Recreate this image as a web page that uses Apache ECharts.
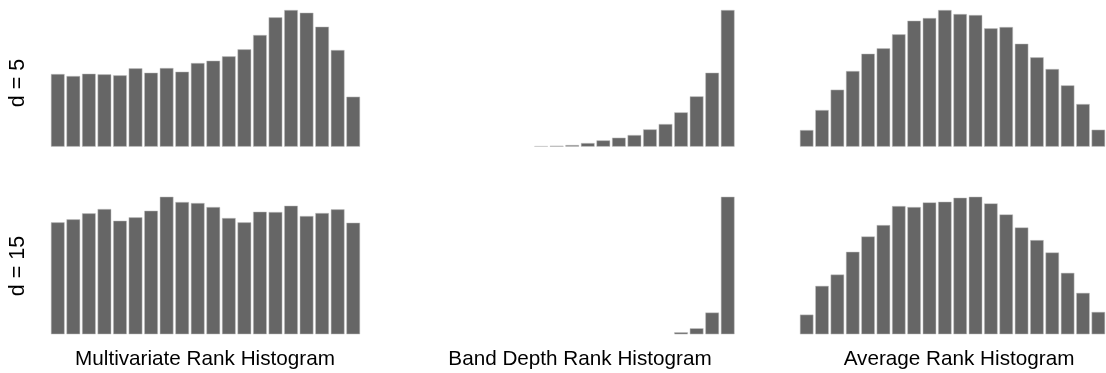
<!DOCTYPE html>
<html>
<head>
<meta charset="utf-8">
<script src="https://cdn.jsdelivr.net/npm/echarts@6/dist/echarts.min.js"></script>
<style>
html,body{margin:0;padding:0;background:#fff;}
#chart{width:1106px;height:373px;}
</style>
</head>
<body>
<div id="chart"></div>
<script>
// Rank bins (1..20)
const ranks = ["1","2","3","4","5","6","7","8","9","10","11","12","13","14","15","16","17","18","19","20"];

// Row labels and column titles
const rowLabels = ["d = 5", "d = 15"];
const colTitles = ["Multivariate Rank Histogram", "Band Depth Rank Histogram", "Average Rank Histogram"];

// d = 5 (relative frequencies)
const mvRankD5  = [218,212,219,217,214,235,222,236,225,251,258,271,292,335,388,410,402,360,290,150];
const bdRankD5  = [0,0,0,0,0,0,0,2,3,5,11,19,27,35,52,68,103,151,222,410];
const avgRankD5 = [50,110,171,227,279,295,337,378,386,410,398,395,355,359,309,268,233,184,128,51];

// d = 15
const mvRankD15  = [336,345,363,376,341,351,371,413,397,394,382,349,336,368,367,386,355,364,375,335];
const bdRankD15  = [0,0,0,0,0,0,0,0,0,0,0,0,0,0,0,0,6,18,65,411];
const avgRankD15 = [59,145,179,247,293,327,384,381,395,397,409,412,392,359,320,282,245,184,124,67];

const panels = [
  [mvRankD5, bdRankD5, avgRankD5],
  [mvRankD15, bdRankD15, avgRankD15]
];

const colLeft = [50, 424.5, 799];
const colWidth = 311;
const rowTop = [10, 196.7];
const rowHeight = [136.7, 137.6];
const titleX = [205, 580, 959];
const titleY = 359;
const rowLabelX = 18;
const rowLabelY = [83, 266];

const grids = [], xAxes = [], yAxes = [], series = [];
let idx = 0;
for (let r = 0; r < 2; r++) {
  for (let c = 0; c < 3; c++) {
    const data = panels[r][c];
    grids.push({left: colLeft[c], top: rowTop[r], width: colWidth, height: rowHeight[r], containLabel: false});
    xAxes.push({type: 'category', gridIndex: idx, data: ranks, show: false, boundaryGap: true});
    yAxes.push({type: 'value', gridIndex: idx, min: 0, max: Math.max(...data), show: false});
    series.push({
      type: 'bar', xAxisIndex: idx, yAxisIndex: idx,
      data: data.map(v => (v === 0 ? '-' : v)),
      barCategoryGap: '12%', silent: true, animation: false,
      itemStyle: {color: '#666666', borderColor: '#c4c4c4', borderWidth: 0.5}
    });
    idx++;
  }
}

const graphics = [];
colTitles.forEach((t, i) => {
  graphics.push({type: 'text', x: titleX[i], y: titleY, style: {
    text: t, fill: '#000', font: '20.7px "Liberation Sans", Arial, sans-serif',
    textAlign: 'center', textVerticalAlign: 'middle'}});
});
rowLabels.forEach((t, i) => {
  graphics.push({type: 'text', x: rowLabelX, y: rowLabelY[i], rotation: Math.PI / 2, style: {
    text: t, fill: '#000', font: '21.5px "Liberation Sans", Arial, sans-serif',
    textAlign: 'center', textVerticalAlign: 'middle'}});
});

const chart = echarts.init(document.getElementById('chart'), null, {renderer: 'canvas'});
chart.setOption({
  animation: false,
  grid: grids, xAxis: xAxes, yAxis: yAxes, series: series,
  graphic: graphics
});
</script>
</body>
</html>
